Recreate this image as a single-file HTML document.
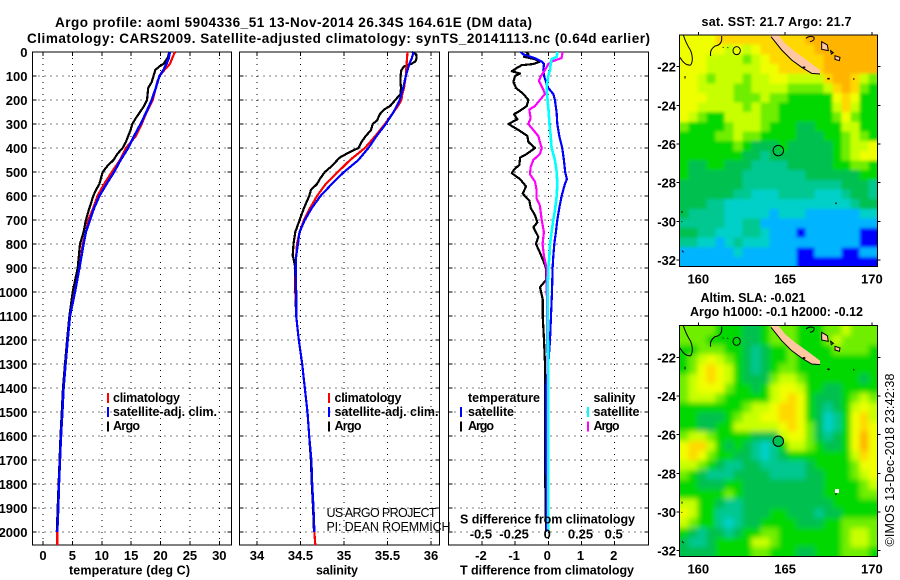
<!DOCTYPE html>
<html><head><meta charset="utf-8"><title>Argo profile</title>
<style>
html,body{margin:0;padding:0;background:#fff}
svg{display:block}
text{font-family:"Liberation Sans",sans-serif;font-weight:bold;font-size:12.5px;fill:#000}
.reg{font-weight:normal}
</style></head><body>
<svg id="chart" xmlns="http://www.w3.org/2000/svg" width="900" height="580" viewBox="0 0 900 580">
<defs>
<filter id="blurSst" filterUnits="userSpaceOnUse" x="650" y="0" width="250" height="300"><feGaussianBlur stdDeviation="1.6"/></filter>
<filter id="blurSla" filterUnits="userSpaceOnUse" x="650" y="290" width="250" height="290"><feGaussianBlur stdDeviation="2.6"/></filter>
<clipPath id="clipSst"><rect x="679.3" y="35" width="198" height="231.7"/></clipPath>
<clipPath id="clipSla"><rect x="679.3" y="325.7" width="198" height="231"/></clipPath>
<g id="coast" fill="none" stroke="#000" stroke-width="3">
<path d="M303,75 L325,75 L345,100 L375,125 L410,150 L450,180 L450,192 L425,190 L395,172 L365,150 L335,120 L305,85 Z" fill="#ffc8a0" stroke="none"/>
<path d="M303,80 L335,120 L365,150 L395,172 L425,190 L450,192"/>
<path d="M455,95 L472,105 L475,122 L455,118 Z M482,122 L490,128 L484,132 Z M495,137 L510,142 L508,152 L495,148 Z" fill="#ffc8a0"/>
<path d="M408,85 Q420,75 432,82 Q435,92 420,95"/>
<path d="M40,75 Q48,100 62,122 Q72,150 62,165 Q45,168 30,142"/>
<path d="M155,78 Q158,105 135,108 Q118,120 122,138"/>
<ellipse cx="200" cy="122" rx="11" ry="12"/>
<path d="M158,112 h3 M172,113 h3 M45,198 v8 M36,603 v6 M34,635 h3 M36,722 l5,5"/>
<path d="M398,172 h8 M472,206 h7 M550,207 h3 M496,580 h4" stroke-width="5"/>
</g>
</defs>
<text x="55" y="27" style="font-size:13.5px" textLength="477">Argo profile: aoml 5904336_51 13-Nov-2014 26.34S 164.61E (DM data)</text>
<text x="27" y="43" style="font-size:13.5px" textLength="623">Climatology: CARS2009. Satellite-adjusted climatology: synTS_20141113.nc (0.64d earlier)</text>
<g id="plots"></g>
<g id="maps"></g>
<text x="69" y="574.5" textLength="121">temperature (deg C)</text>
<text x="316" y="574.5" textLength="42">salinity</text>
<text x="460" y="574.5" textLength="174">T difference from climatology</text>
<text x="460" y="523.5" textLength="175">S difference from climatology</text>
<text x="113" y="402" textLength="67">climatology</text>
<text x="113" y="416" textLength="104">satellite-adj. clim.</text>
<text x="113" y="430" textLength="27">Argo</text>
<text x="334.5" y="402" textLength="67">climatology</text>
<text x="334.5" y="416" textLength="104">satellite-adj. clim.</text>
<text x="334.5" y="430" textLength="27">Argo</text>
<text class="reg" x="326.5" y="517" textLength="110">US ARGO PROJECT</text>
<text class="reg" x="326.5" y="531" textLength="124">PI: DEAN ROEMMICH</text>
<text x="468" y="402" textLength="72">temperature</text>
<text x="593.5" y="402" textLength="42">salinity</text>
<text x="468" y="416" textLength="46">satellite</text>
<text x="468" y="430" textLength="26">Argo</text>
<text x="593.5" y="416" textLength="46">satellite</text>
<text x="593.5" y="430" textLength="26">Argo</text>
<text x="701.5" y="26" textLength="150">sat. SST: 21.7 Argo: 21.7</text>
<text x="700.5" y="302" textLength="105">Altim. SLA: -0.021</text>
<text x="690" y="316" textLength="173">Argo h1000: -0.1 h2000: -0.12</text>
<text class="reg" transform="translate(894,546.5) rotate(-90)" x="0" y="0" textLength="173">©IMOS 13-Dec-2018 23:42:38</text>
</svg>
<script>
// ---- profile data (depth in dbar, temperature deg C, salinity PSU) ----
const depthTicks = [0,100,200,300,400,500,600,700,800,900,1000,1100,1200,1300,1400,1500,1600,1700,1800,1900,2000];
const tempTicks = [0,5,10,15,20,25,30];
const salTicks = [34,34.5,35,35.5,36];
const salTickLabels = ['34','34.5','35','35.5','36'];
const tDiffTicks = [-2,-1,0,1,2];
const sDiffTicks = [-0.5,-0.25,0,0.25,0.5];
const sDiffTickLabels = ['-0.5','-0.25','0','0.25','0.5'];

const tempClimDepth = [0,25,50,75,100,125,200,250,300,350,400,450,500,550,600,650,700,750,800,900,1000,1100,1200,1300,1400,1500,1600,1700,1800,1900,2000,2055];
const tempClim = [22.46,22.0,21.6,20.65,19.8,19.45,18.66,17.64,16.8,15.8,14.1,13.1,11.7,10.4,9.25,8.56,7.7,7.3,6.75,6.2,5.4,4.6,4.2,3.85,3.5,3.3,3.06,2.9,2.72,2.6,2.44,2.44];
const tempSatDepth = [0,25,50,75,100,150,200,250,300,350,400,450,500,550,600,650,700,750,800,900,1000,1100,1200,1300,1400,1500,1600,1700,1800,1900,2000];
const tempSat = [21.6,21.4,21.0,20.5,19.8,19.2,18.5,17.6,16.6,15.5,14.5,13.2,12.1,10.8,9.6,8.7,8.0,7.3,6.9,6.2,5.45,4.6,4.2,3.85,3.5,3.3,3.06,2.9,2.72,2.6,2.44];
const tempArgoDepth = [0,25,50,60,75,100,125,150,175,200,225,240,275,300,325,350,375,400,425,450,475,500,550,575,600,650,700,750,800,900,1000,1100,1200,1300,1400,1500,1600,1700,1800,1900,2000];
const tempArgo = [21.5,21.2,20.5,19.8,19.1,18.8,18.5,17.9,17.8,17.7,17.2,16.8,15.8,15.2,14.9,14.5,14.1,13.55,12.65,12.0,10.95,10.15,9.6,9.0,8.56,7.9,7.3,6.9,6.3,5.9,5.05,4.5,4.1,3.75,3.4,3.2,2.98,2.82,2.65,2.5,2.35];

const salClimDepth = [0,50,100,150,175,200,225,250,300,350,400,450,500,550,600,650,700,750,800,850,900,1000,1100,1200,1300,1400,1500,1600,1700,1800,1900,2000,2055];
const salClim = [35.73,35.72,35.71,35.69,35.67,35.66,35.62,35.57,35.47,35.36,35.24,35.07,34.93,34.79,34.69,34.61,34.54,34.49,34.46,34.45,34.445,34.445,34.45,34.48,34.52,34.55,34.58,34.60,34.625,34.635,34.65,34.66,34.67];
const salSatDepth = [0,25,50,100,150,200,250,300,350,400,450,500,550,600,650,700,750,800,850,900,1000,1100,1200,1300,1400,1500,1600,1700,1800,1900,2000];
const salSat = [35.80,35.78,35.75,35.71,35.68,35.64,35.57,35.48,35.375,35.28,35.165,35.0,34.86,34.73,34.63,34.55,34.49,34.47,34.45,34.445,34.45,34.45,34.48,34.52,34.55,34.58,34.60,34.625,34.635,34.65,34.66];
const salArgoDepth = [0,10,25,40,50,60,75,100,125,150,175,200,225,240,260,285,300,325,350,375,400,420,440,475,500,525,550,575,600,650,700,750,800,850,860,900,1000,1100,1200,1300,1400,1500,1600,1700,1800,1900,2000];
const salArgo = [35.78,35.83,35.835,35.82,35.77,35.69,35.66,35.65,35.65,35.655,35.65,35.59,35.53,35.46,35.41,35.38,35.33,35.31,35.25,35.20,35.165,35.05,34.95,34.86,34.78,34.73,34.69,34.62,34.60,34.54,34.49,34.44,34.42,34.41,34.42,34.44,34.44,34.45,34.48,34.52,34.55,34.58,34.60,34.62,34.63,34.645,34.655];

const tDiffSatDepth = [0,10,25,40,50,75,100,125,150,175,200,250,300,350,400,450,500,530,550,600,650,700,750,800,850,900,1000,1100,1200,1300,1400,1500,1700,1800,2000];
const tDiffSat = [-0.83,-0.75,-0.42,-0.2,-0.13,-0.15,-0.13,-0.07,0,0.15,0.2,0.25,0.27,0.33,0.42,0.47,0.51,0.56,0.5,0.4,0.33,0.27,0.23,0.18,0.15,0.13,0.11,0.08,0.05,0,-0.07,-0.07,-0.07,-0.05,-0.05];
const tDiffArgoDepth = [0,10,20,30,40,50,55,65,80,90,100,125,150,175,200,225,240,260,280,300,325,350,375,400,425,440,470,490,505,530,560,590,620,650,680,710,730,770,800,830,870,900,950,980,1030,1100,1200,1300,1600,1800,2000];
const tDiffArgo = [-0.67,-0.6,-0.73,-0.4,-0.25,-0.45,-0.8,-0.93,-1.1,-0.85,-1.0,-1.05,-0.97,-0.75,-0.6,-0.65,-0.8,-1.03,-0.93,-1.2,-0.9,-0.63,-0.6,-0.4,-0.65,-0.85,-0.87,-1.03,-1.1,-0.85,-0.67,-0.77,-0.57,-0.53,-0.4,-0.33,-0.45,-0.3,-0.37,-0.27,-0.15,-0.07,-0.07,-0.25,-0.17,-0.17,-0.13,-0.1,-0.1,-0.09,-0.07];
const sDiffArgoDepth = [0,25,40,50,75,100,120,150,175,200,225,240,275,300,325,350,375,400,425,450,480,510,540,575,610,640,700,750,800,850,900,950,1100,1500,2000];
const sDiffArgo = [0.108,0.1,0.025,0,-0.025,-0.055,-0.07,-0.043,-0.025,-0.063,-0.1,-0.143,-0.133,-0.15,-0.113,-0.075,-0.063,-0.05,-0.063,-0.113,-0.133,-0.138,-0.1,-0.088,-0.088,-0.063,-0.05,-0.033,-0.043,-0.033,-0.013,-0.013,-0.008,-0.005,-0.005];
const sDiffSatDepth = [0,20,30,50,75,100,150,200,250,300,350,400,450,500,550,600,650,700,750,800,850,900,1000,1400,2000];
const sDiffSat = [0.068,0.063,0.025,0.018,0.013,0,-0.013,-0.005,0.003,0.008,0.018,0.025,0.05,0.063,0.068,0.063,0.053,0.038,0.025,0.013,0.008,0,-0.005,0,0];

// ---- map data: colour-level index per grid cell, north to south, west to east ----
const mapLonTicks = [160,165,170];
const mapLatTicks = [-22,-24,-26,-28,-30,-32];
const sstLevels = [
[8,8,8,8,9,9,9,9,9,9,9,9,9,9,10,10,10,10,10,10,10,10],
[8,8,8,8,8,7,8,7,8,9,9,9,9,9,9,10,10,10,10,10,10,10],
[8,8,8,7,7,7,7,6,7,8,9,9,9,9,9,9,10,10,10,10,10,10],
[8,8,8,7,7,7,7,7,7,8,8,9,9,9,9,9,10,10,10,10,10,10],
[8,8,7,6,7,7,7,6,7,7,8,8,7,7,7,7,9,10,10,9,7,6],
[8,8,7,7,7,7,6,6,7,7,7,7,6,6,6,6,7,9,10,9,6,5],
[8,8,8,7,7,7,6,6,6,7,6,6,5,5,5,5,5,8,9,8,5,5],
[8,8,7,7,7,7,7,6,7,6,6,5,5,5,5,5,5,7,9,7,5,5],
[8,7,6,5,5,7,7,7,7,6,6,5,5,5,5,5,5,6,8,6,5,5],
[6,5,5,5,5,6,7,7,7,6,5,5,5,4,4,5,5,5,7,7,5,5],
[5,5,5,5,6,6,7,6,6,5,5,5,5,4,4,4,5,5,6,7,6,5],
[5,5,5,5,5,5,6,5,4,4,4,5,4,4,4,4,4,5,6,7,7,8],
[5,5,5,5,5,5,5,4,4,3,4,4,4,4,4,4,4,5,6,7,8,8],
[5,4,4,5,5,4,4,4,3,3,3,3,4,4,4,4,4,5,5,6,6,5],
[5,4,4,4,4,4,4,3,3,3,3,3,3,3,4,4,4,4,4,4,5,5],
[4,4,4,4,4,4,4,3,3,3,3,3,3,3,3,3,3,3,4,4,4,3],
[4,4,4,4,4,4,3,3,2,2,2,3,3,3,3,2,2,2,3,4,4,3],
[4,4,4,3,3,2,2,2,2,2,2,2,2,2,2,2,2,2,2,3,4,4],
[4,3,3,3,3,2,2,2,2,2,1,2,2,2,1,1,1,1,1,1,2,2],
[3,3,3,3,3,2,2,3,3,1,1,1,1,1,1,1,1,1,1,1,1,1],
[4,4,3,3,2,2,2,3,3,2,1,1,1,0,1,1,1,1,1,1,0,0],
[3,3,2,2,1,2,3,2,2,2,1,1,1,1,1,1,1,1,1,1,0,0],
[1,1,1,1,1,1,2,1,1,1,1,1,1,0,0,1,1,1,0,0,1,1],
[1,1,1,1,1,1,1,1,1,1,1,1,1,0,0,0,0,0,0,0,0,0]
];
const slaLevels = [
[6,6,6,6,5,5,5,4,4,5,6,6,6,5,5,5,6,6,7,6,6,6],
[6,6,6,5,5,5,5,4,4,5,6,6,6,5,5,5,6,7,6,6,6,6],
[5,5,6,6,6,5,5,4,3,4,5,5,6,5,5,5,5,6,6,6,6,5],
[5,6,7,8,7,6,5,4,3,4,5,5,6,5,5,5,5,5,5,5,5,5],
[5,6,8,9,8,7,5,4,3,4,5,6,6,5,5,5,5,5,5,5,5,5],
[6,7,8,9,8,7,5,4,4,4,6,7,7,6,5,5,5,5,5,5,4,5],
[6,7,8,8,8,6,5,5,4,5,7,8,8,7,5,5,4,4,5,5,5,5],
[6,7,7,7,6,5,5,5,5,5,7,8,9,8,5,4,4,4,5,6,7,6],
[5,5,5,5,5,5,5,6,7,7,8,9,9,8,5,4,3,4,5,7,8,7],
[5,5,4,4,4,5,6,7,7,8,8,9,9,8,5,4,2,3,5,8,9,7],
[5,5,4,4,5,5,7,7,7,7,7,8,9,8,6,4,2,3,5,8,9,8],
[6,7,7,6,5,5,5,5,4,4,4,7,8,8,6,4,3,4,5,8,10,8],
[8,9,9,7,5,4,5,4,3,2,3,5,7,7,6,5,4,4,5,8,10,8],
[8,9,8,6,5,5,4,4,3,2,3,4,5,5,5,5,5,5,5,7,9,8],
[7,7,6,5,4,3,3,4,4,3,3,3,3,3,4,5,5,5,5,6,8,8],
[6,5,4,3,3,3,4,4,4,4,3,3,3,3,4,4,5,5,5,6,7,8],
[5,5,4,4,4,5,5,4,4,4,4,4,4,4,4,4,5,5,5,5,6,7],
[5,5,5,5,5,6,5,4,4,4,4,4,4,4,4,4,5,5,5,5,6,6],
[7,7,5,5,4,3,3,4,4,4,4,4,4,4,4,4,4,5,5,5,5,5],
[8,7,5,5,3,3,3,4,4,4,5,5,4,4,4,3,4,4,5,5,5,5],
[7,6,5,5,3,2,3,4,4,5,5,5,5,4,4,4,5,5,6,6,6,6],
[5,4,3,4,4,3,4,5,5,6,6,5,5,5,5,5,5,5,6,7,7,6],
[4,3,3,4,5,5,5,5,7,7,6,5,5,5,5,5,5,5,6,7,7,6],
[4,4,4,4,5,5,5,5,6,6,5,5,5,4,4,5,5,5,6,6,6,5]
];
const profileLon = 164.61;
const profileLat = -26.34;

// ---- rendering ----
const NS = 'http://www.w3.org/2000/svg';
const levelColors = ['#0000ff','#00b4ff','#00d0c8','#00c890','#00c050','#00d800','#70ee00','#c8ff00','#f0ff00','#ffd800','#ffb400'];
const plots = document.getElementById('plots');
const maps = document.getElementById('maps');
function make(tag, parent, attrs){
  const el = document.createElementNS(NS, tag);
  for (const k in attrs) el.setAttribute(k, attrs[k]);
  parent.appendChild(el);
  return el;
}
function makeText(parent, x, y, str, anchor){
  const t = make('text', parent, {x:x, y:y, 'text-anchor':anchor});
  t.style.fontSize = '13px';
  t.textContent = str;
  return t;
}
const topY = 52, botY = 545;
const yDepth = d => topY + d * 0.24;

function drawFrame(name, left, right, xVals, xFn, showYLabels){
  const g = make('g', plots, {'shape-rendering':'crispEdges'});
  
  
  depthTicks.forEach(function(d){
    const y = yDepth(d);
    const gl = make('line', g, {x1:left, x2:right, y1:y, y2:y, stroke:'#000', 'stroke-width':1, 'stroke-dasharray':'1 5'});
    
    
    const t1 = make('path', g, {d:'M'+left+','+y+'h4M'+right+','+y+'h-4', stroke:'#000', fill:'none'});
    
    
    if (showYLabels){
      const lb = makeText(g, 27.5, y + 5, String(d), 'end');
      
      
    }
  });
  xVals.forEach(function(v){
    const x = xFn(v);
    const gl = make('line', g, {x1:x, x2:x, y1:topY, y2:botY, stroke:'#000', 'stroke-width':1, 'stroke-dasharray':'1 5'});
    
    
    const t1 = make('path', g, {d:'M'+x+','+botY+'v-4M'+x+','+topY+'v4', stroke:'#000', fill:'none'});
    
    
  });
  const box = make('rect', g, {x:left, y:topY, width:right-left, height:botY-topY, fill:'none', stroke:'#000', 'stroke-width':1});
  
  
}
function drawLine(name, depths, vals, xFn, color, w){
  const pts = depths.map(function(d,i){ return xFn(vals[i]).toFixed(1) + ',' + yDepth(d).toFixed(1); }).join(' ');
  const p = make('polyline', plots, {points:pts, fill:'none', stroke:color, 'stroke-width':w, 'shape-rendering':'crispEdges', 'stroke-linejoin':'round'});
  
  
}
function legendMark(name, x, y, color){
  const m = make('rect', plots, {x:x-1, y:y, width:2, height:10, fill:color, 'shape-rendering':'crispEdges'});
  
  
}
const xTemp = t => 43 + t * 5.877;
const xSal = s => 257 + (s - 34) * 87;
const xTD = t => 548.3 + t * 33.2;
const xSD = s => 548.3 + s * 132.8;

drawFrame('temperature-panel', 32.5, 231.5, tempTicks, xTemp, true);
drawFrame('salinity-panel', 239.5, 439.5, salTicks, xSal, false);
drawFrame('difference-panel', 448.5, 648.5, tDiffTicks, xTD, false);

tempTicks.forEach(function(v){
  const t = makeText(plots, xTemp(v), 560, String(v), 'middle');
  
  
});
salTicks.forEach(function(v,i){
  const t = makeText(plots, xSal(v), 560, salTickLabels[i], 'middle');
  
  
});
tDiffTicks.forEach(function(v){
  const t = makeText(plots, xTD(v) - 1, 560, String(v), 'middle');
  
  
});

drawLine('temperature-argo-line', tempArgoDepth, tempArgo, xTemp, '#000', 2.2);
drawLine('temperature-climatology-line', tempClimDepth, tempClim, xTemp, '#ff0000', 2.2);
drawLine('temperature-satellite-line', tempSatDepth, tempSat, xTemp, '#0000ff', 2.4);
drawLine('salinity-argo-line', salArgoDepth, salArgo, xSal, '#000', 2.2);
drawLine('salinity-climatology-line', salClimDepth, salClim, xSal, '#ff0000', 2.2);
drawLine('salinity-satellite-line', salSatDepth, salSat, xSal, '#0000ff', 2.2);
drawLine('t-difference-argo-line', tDiffArgoDepth, tDiffArgo, xTD, '#000', 2.2);
drawLine('t-difference-satellite-line', tDiffSatDepth, tDiffSat, xTD, '#0000ff', 2.2);
drawLine('s-difference-argo-line', sDiffArgoDepth, sDiffArgo, xSD, '#ff00ff', 2.2);
drawLine('s-difference-satellite-line', sDiffSatDepth, sDiffSat, xSD, '#00ffff', 2.6);

sDiffTicks.forEach(function(v,i){
  const t = makeText(plots, xSD(v) - 1, 538.5, sDiffTickLabels[i], 'middle');
  
  
});

legendMark('legend-mark-climatology', 108, 393, '#ff0000');
legendMark('legend-mark-satellite', 108, 407, '#0000ff');
legendMark('legend-mark-argo', 108, 421.5, '#000');
legendMark('legend-mark-climatology-s', 329, 393, '#ff0000');
legendMark('legend-mark-satellite-s', 329, 407, '#0000ff');
legendMark('legend-mark-argo-s', 329, 421.5, '#000');
legendMark('legend-mark-t-satellite', 461, 407, '#0000ff');
legendMark('legend-mark-t-argo', 461, 421.5, '#000');
legendMark('legend-mark-s-satellite', 588, 407, '#00ffff');
legendMark('legend-mark-s-argo', 588, 421.5, '#ff00ff');

function drawMap(name, grid, top, bottom, latRef, coastDy, circleFill, xLabelY, clipId, blurId){
  const left = 679.3, right = 877.3;
  const xLon = lon => 698.3 + (lon - 160) * 17.36;
  const yLat = lat => latRef + (-22 - lat) * 19.33;
  const g = make('g', maps, {});
  
  
  const clip = make('g', g, {'clip-path':'url(#' + clipId + ')'});
  
  
  const field = make('g', clip, {filter:'url(#' + blurId + ')'});
  
  
  const rows = grid.length, cols = grid[0].length;
  const cw = (right - left) / cols, ch = (bottom - top) / rows;
  const pad = 14;
  grid.forEach(function(row, r){
    row.forEach(function(level, c){
      const x0 = left + c*cw - (c === 0 ? pad : 0);
      const y0 = top + r*ch - (r === 0 ? pad : 0);
      const w = cw + 0.6 + (c === 0 || c === cols-1 ? pad : 0);
      const h = ch + 0.6 + (r === 0 || r === rows-1 ? pad : 0);
      const cell = make('rect', field, {x:x0.toFixed(2), y:y0.toFixed(2), width:w.toFixed(2), height:h.toFixed(2), fill:levelColors[level], 'shape-rendering':'crispEdges'});
      
      
    });
  });
  const u = make('use', clip, {href:'#coast', transform:'translate(670,' + coastDy + ') scale(0.33333)'});
  
  
  const box = make('rect', g, {x:left, y:top, width:right-left, height:bottom-top, fill:'none', stroke:'#000', 'stroke-width':1, 'shape-rendering':'crispEdges'});
  
  
  const mk = make('circle', g, {cx:xLon(profileLon), cy:yLat(profileLat), r:5.2, fill:circleFill, stroke:'#000', 'stroke-width':1});
  
  
  mapLonTicks.forEach(function(lon){
    const x = xLon(lon);
    const t = make('line', g, {x1:x, x2:x, y1:top-3, y2:top, stroke:'#000', 'shape-rendering':'crispEdges'});
    
    
    const l = makeText(g, x, xLabelY, String(lon), 'middle');
    
    
  });
  mapLatTicks.forEach(function(lat){
    const y = yLat(lat);
    const t = make('path', g, {d:'M'+(left-3)+','+y+'h3M'+right+','+y+'h3', stroke:'#000', fill:'none', 'shape-rendering':'crispEdges'});
    
    
    const l = makeText(g, 676, y + 5, String(lat), 'end');
    
    
  });
}
drawMap('sst-map', sstLevels, 35, 266.7, 66.7, 10, 'none', 283.5, 'clipSst', 'blurSst');
drawMap('sla-map', slaLevels, 325.7, 556.7, 357.3, 300.67, '#00c050', 573.5, 'clipSla', 'blurSla');
const spot = make('rect', maps, {x:835, y:489, width:4, height:4, fill:'#fff', 'shape-rendering':'crispEdges'});


</script>
</body></html>
